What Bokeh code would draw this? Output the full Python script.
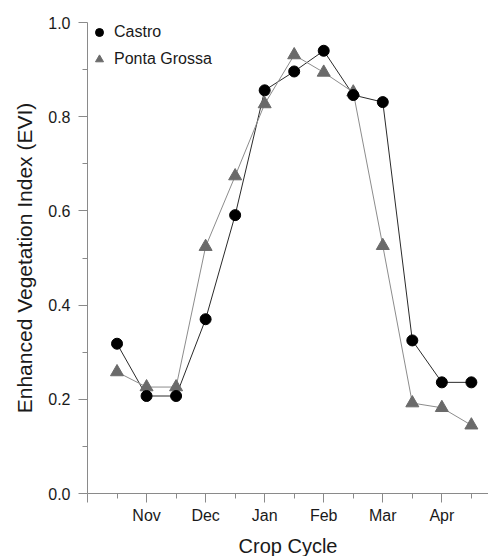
from bokeh.plotting import figure
from bokeh.models import FixedTicker, Legend, LegendItem, Range1d
from bokeh.embed import file_html
from bokeh.resources import INLINE

# Data (x: 0 = Oct, 1 = Nov, ... 6 = Apr; points every half month)
x_vals = [0.5, 1.0, 1.5, 2.0, 2.5, 3.0, 3.5, 4.0, 4.5, 5.0, 5.5, 6.0, 6.5]
castro = [0.318, 0.207, 0.207, 0.370, 0.591, 0.856, 0.896, 0.940, 0.846, 0.831, 0.325, 0.236, 0.236]
ponta_grossa = [0.258, 0.226, 0.226, 0.524, 0.674, 0.827, 0.931, 0.894, 0.852, 0.526, 0.192, 0.182, 0.145]
month_ticks = [0, 1, 2, 3, 4, 5, 6]
month_labels = ["", "Nov", "Dec", "Jan", "Feb", "Mar", "Apr"]
y_ticks = [0.0, 0.2, 0.4, 0.6, 0.8, 1.0]
y_minor = [0.1, 0.3, 0.5, 0.7, 0.9]
x_minor = [0.5, 1.5, 2.5, 3.5, 4.5, 5.5, 6.5]

FONT = "Liberation Sans"
AXIS_COLOR = "#8a8a8a"

p = figure(width=488, height=556, frame_width=401, frame_height=471,
           output_backend="svg", toolbar_location=None,
           x_range=Range1d(0, 6.79), y_range=Range1d(0, 1.0),
           min_border_left=87, min_border_right=0, min_border_top=22, min_border_bottom=63)
p.outline_line_color = None
p.grid.visible = False

p.line(x_vals, castro, line_color="#2a2a2a", line_width=1)
p.line(x_vals, ponta_grossa, line_color="#8c8c8c", line_width=1)
r_pg = p.scatter(x_vals, ponta_grossa, marker="triangle", size=13, fill_color="#6a6a6a", line_color="#6a6a6a")
r_c = p.scatter(x_vals, castro, marker="circle", size=11, fill_color="black", line_color="black")

# X axis
p.xaxis.ticker = FixedTicker(ticks=month_ticks, minor_ticks=x_minor)
p.xaxis.major_label_overrides = {t: l for t, l in zip(month_ticks, month_labels)}
p.xaxis.axis_label = "Crop Cycle"
# Y axis
p.yaxis.ticker = FixedTicker(ticks=y_ticks, minor_ticks=y_minor)
p.yaxis.major_label_overrides = {t: f"{t:.1f}" for t in y_ticks}
p.yaxis.axis_label = "Enhanced Vegetation Index (EVI)"

for ax in (p.xaxis, p.yaxis):
    ax.axis_line_color = AXIS_COLOR
    ax.major_tick_line_color = AXIS_COLOR
    ax.minor_tick_line_color = AXIS_COLOR
    ax.major_tick_out = 9
    ax.major_tick_in = 0
    ax.minor_tick_out = 5
    ax.minor_tick_in = 0
    ax.major_label_text_font = FONT
    ax.major_label_text_font_size = "16px"
    ax.major_label_text_color = "#1a1a1a"
    ax.axis_label_text_font = FONT
    ax.axis_label_text_font_size = "20px"
    ax.axis_label_text_font_style = "normal"
    ax.axis_label_text_color = "#1a1a1a"
    ax.axis_label_text_line_height = 1.0
p.yaxis.axis_label_text_font_size = "21px"
p.xaxis.major_label_standoff = 4
p.yaxis.major_label_standoff = 8
p.xaxis.axis_label_standoff = 8
p.yaxis.axis_label_standoff = 9

legend = Legend(items=[LegendItem(label="Castro", renderers=[r_c]),
                       LegendItem(label="Ponta Grossa", renderers=[r_pg])],
                location="top_left", padding=3, margin=0, spacing=7,
                glyph_width=24, glyph_height=20, label_standoff=3,
                border_line_color=None, background_fill_alpha=0,
                label_text_font=FONT, label_text_font_size="16px", label_text_color="#1a1a1a")
p.add_layout(legend, "center")

open("out.html", "w").write(file_html(p, INLINE))
